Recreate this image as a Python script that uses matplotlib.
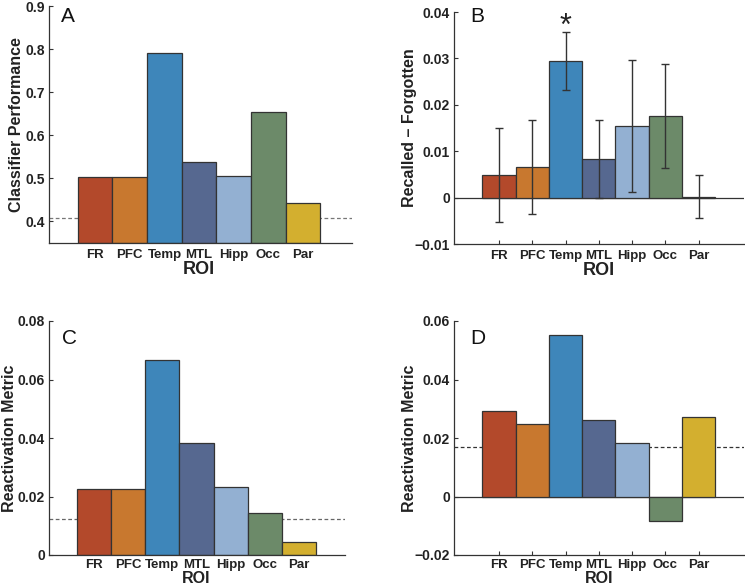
import numpy as np
import matplotlib.pyplot as plt

plt.rcParams['font.family'] = ['Liberation Sans', 'DejaVu Sans']

# regioner og farger
rois = ['FR', 'PFC', 'Temp', 'MTL', 'Hipp', 'Occ', 'Par']
colors = ['#B3492B', '#C8782F', '#3E86BA', '#566890', '#93B0D2', '#6C8A69', '#D3AF2F']

# A: klassifiseringsytelse
perf_A = [0.503, 0.503, 0.792, 0.538, 0.506, 0.653, 0.443]
chance_A = 0.408

# B: husket - glemt, med feilstolper
diff_B = [0.0048, 0.0066, 0.0294, 0.0083, 0.0155, 0.0176, 0.0002]
err_B = [0.0101, 0.0102, 0.0062, 0.0084, 0.0142, 0.0112, 0.0047]

# C og D: reaktiveringsmål
react_C = [0.0226, 0.0224, 0.0665, 0.0382, 0.0231, 0.0144, 0.0046]
chance_C = 0.0122
react_D = [0.0291, 0.0247, 0.0552, 0.0263, 0.0184, -0.0084, 0.0273]
chance_D = 0.0170

W, H = 745, 586
fig = plt.figure(figsize=(W / 100, H / 100), dpi=100)

def px_axes(l, r, t, b):
    return fig.add_axes([l / W, 1 - b / H, (r - l) / W, (b - t) / H])

axA = px_axes(49, 352, 6, 243)
axB = px_axes(454, 744, 12, 244)
axC = px_axes(49, 345, 321, 555)
axD = px_axes(454, 744, 321, 555)

x = np.arange(1, 8)
edge = '#333333'

def style(ax, ylim, yticks, yticklabels, ylabel, xlim, ylab_x, xlab_y, xpad=4, roi_size=13):
    ax.set_ylim(*ylim)
    ax.set_xlim(*xlim)
    ax.set_yticks(yticks)
    ax.set_yticklabels(yticklabels, fontsize=10, fontweight='bold', color='#222222')
    ax.set_xticks(x)
    ax.set_xticklabels(rois, fontsize=9.5, fontweight='bold', color='#222222')
    ax.set_ylabel(ylabel, fontsize=11.5, fontweight='bold', color='#222222')
    ax.yaxis.set_label_coords(ylab_x, 0.5)
    ax.set_xlabel('ROI', fontsize=roi_size, fontweight='bold', color='#222222')
    ax.xaxis.label.set_va('baseline')
    # ROI sentrert under MTL-stolpen
    ax.xaxis.set_label_coords((4 - xlim[0]) / (xlim[1] - xlim[0]), xlab_y)
    for s in ['top', 'right']:
        ax.spines[s].set_visible(False)
    for s in ['left', 'bottom']:
        ax.spines[s].set_color(edge)
        ax.spines[s].set_linewidth(0.9)
    ax.tick_params(direction='in', length=3, width=0.8, color=edge, pad=3)
    ax.tick_params(axis='x', pad=xpad)
    ax.set_axisbelow(True)

# A
axA.axhline(chance_A, color='#777777', lw=0.9, ls=(0, (3, 2)), zorder=0.8)
axA.bar(x, np.array(perf_A) - 0.35, bottom=0.35, width=1.0, color=colors,
        edgecolor=edge, linewidth=0.9, zorder=1)
style(axA, (0.35, 0.9), [0.4, 0.5, 0.6, 0.7, 0.8, 0.9],
      ['0.4', '0.5', '0.6', '0.7', '0.8', '0.9'], 'Classifier Performance',
      (-0.33, 8.41), -0.083, -0.131)

# B
axB.axhline(0, color=edge, lw=0.9, zorder=0.8)
axB.bar(x, diff_B, width=1.0, color=colors, edgecolor=edge, linewidth=0.9, zorder=1)
axB.errorbar(x, diff_B, yerr=err_B, fmt='none', ecolor='#333333', elinewidth=1.0,
             capsize=3, capthick=1.0, zorder=3)
axB.text(3, 0.0367, '*', ha='center', va='center', fontsize=22, color='#222222')
style(axB, (-0.01, 0.04), [-0.01, 0, 0.01, 0.02, 0.03, 0.04],
      ['\u22120.01', '0', '0.01', '0.02', '0.03', '0.04'], 'Recalled \u2013 Forgotten',
      (-0.35, 8.36), -0.128, -0.134)

# C
axC.axhline(chance_C, color='#666666', lw=0.9, ls=(0, (3, 2)), zorder=0.8)
axC.bar(x, react_C, width=1.0, color=colors, edgecolor=edge, linewidth=0.9, zorder=1)
style(axC, (0, 0.08), [0, 0.02, 0.04, 0.06, 0.08],
      ['0', '0.02', '0.04', '0.06', '0.08'], 'Reactivation Metric',
      (-0.33, 8.36), -0.108, -0.118, xpad=3, roi_size=11.5)

# D
axD.axhline(0, color=edge, lw=0.9, zorder=0.8)
axD.axhline(chance_D, color='#333333', lw=0.9, ls=(0, (3, 2)), zorder=0.8)
axD.bar(x, react_D, width=1.0, color=colors, edgecolor=edge, linewidth=0.9, zorder=1)
style(axD, (-0.02, 0.06), [-0.02, 0, 0.02, 0.04, 0.06],
      ['\u22120.02', '0', '0.02', '0.04', '0.06'], 'Reactivation Metric',
      (-0.35, 8.36), -0.128, -0.118, xpad=3, roi_size=11.5)

# panelbokstaver
for lab, px, py in [('A', 61, 17), ('B', 470, 17), ('C', 62, 339), ('D', 470, 339)]:
    fig.text(px / W, 1 - py / H, lab, fontsize=15, ha='left', va='center', color='#111111')

plt.savefig('out.png', dpi=100)
